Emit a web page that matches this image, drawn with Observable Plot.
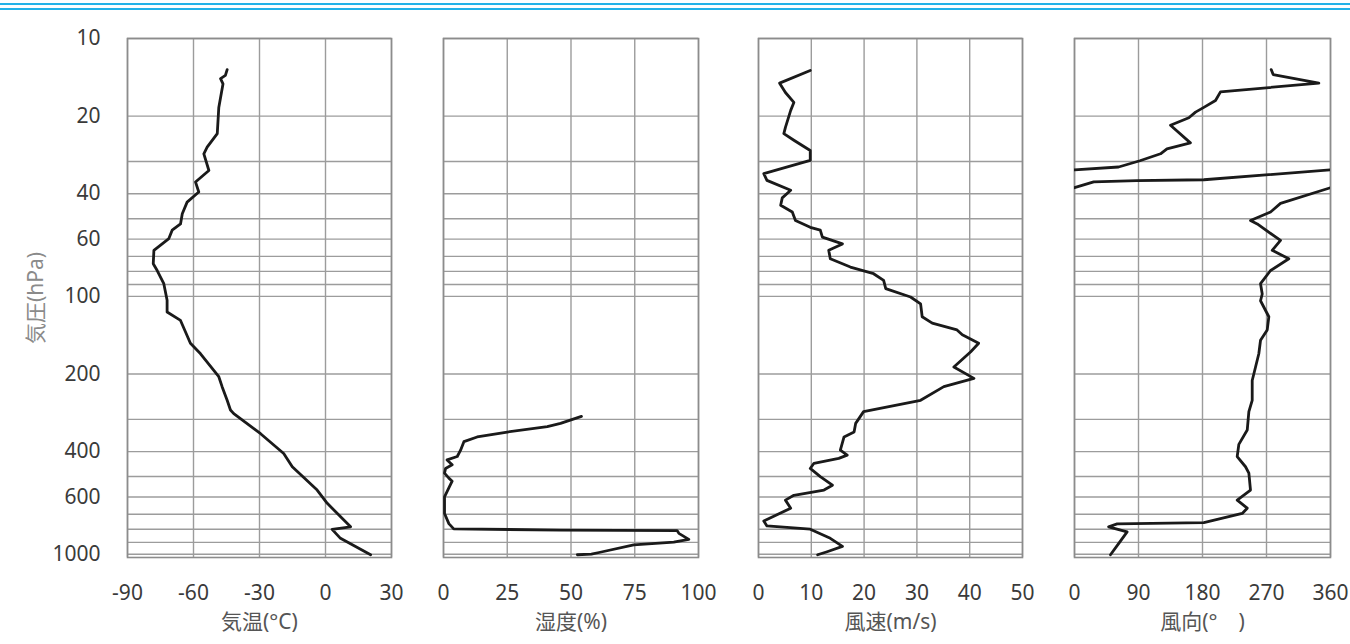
<!DOCTYPE html>
<html>
<head>
<meta charset="utf-8">
<script src="https://cdn.jsdelivr.net/npm/d3@7"></script>
<script src="https://cdn.jsdelivr.net/npm/@observablehq/plot@0.6"></script>
<style>
html, body { margin: 0; padding: 0; background: #fff; }
#chart { position: relative; width: 1350px; height: 644px; overflow: hidden; background: #fff; }
.rule { position: absolute; left: 0; width: 1350px; height: 2px; background: #23b2e8; }
#chart svg { position: absolute; top: 0; }
</style>
</head>
<body>
<div id="chart">
  <div class="rule" style="top:3px"></div>
  <div class="rule" style="top:8px"></div>
</div>
<script>
// ---- axis ticks ----
const pressureTicks = [10, 20, 40, 60, 80, 100, 200, 400, 600, 800, 1000];
const pressureGrid = [10, 20, 30, 40, 50, 60, 70, 80, 90, 100, 200, 300, 400, 500, 600, 700, 800, 900, 1000];
const tempTicks = [-90, -60, -30, 0, 30];
const humTicks = [0, 25, 50, 75, 100];
const speedTicks = [0, 10, 20, 30, 40, 50];
const dirTicks = [0, 90, 180, 270, 360];

// ---- temperature profile (°C vs hPa) ----
const tempP = [13.2, 13.9, 14.3, 15.0, 18.5, 23.4, 26.4, 28.0, 32.5, 36.0, 39.4, 43.1, 47.8, 52.4, 55.4, 59.7, 66.3, 74.8, 79.4, 89.3, 103.6, 115, 124, 152, 167, 205, 224, 253, 276, 285, 341, 407, 458, 564, 635, 783, 801, 868, 1005];
const tempV = [-44.7, -45.5, -47.7, -46.6, -48.5, -49.2, -53.8, -55.3, -53.0, -59.1, -57.6, -62.9, -65.1, -65.9, -69.7, -71.2, -78.0, -78.3, -76.5, -73.5, -72.0, -72.0, -65.9, -61.4, -56.8, -48.5, -47.0, -44.7, -43.2, -41.7, -29.5, -19.0, -15.1, -3.8, 0.8, 11.4, 3.0, 6.8, 20.5];

// ---- humidity profile (% vs hPa) ----
const humP = [292, 311, 320, 336, 351, 366, 395, 418, 431, 450, 465, 485, 507, 521, 553, 599, 695, 761, 798, 806, 810, 830, 876, 898, 920, 985, 1000, 1005];
const humV = [54.1, 45.9, 40.7, 25.0, 13.2, 8.0, 6.7, 5.4, 1.4, 3.4, 0.8, 0.4, 2.1, 3.4, 2.1, 0.4, 0.4, 2.1, 4.0, 45.9, 91.6, 92.3, 96.2, 90.3, 74.6, 61.0, 58.0, 52.5];

// ---- wind speed profile (m/s vs hPa) ----
const speedP = [13.3, 14.9, 16.2, 17.7, 19.0, 22.1, 23.4, 24.8, 27.2, 29.7, 33.4, 35.5, 38.8, 41.5, 44.3, 47.1, 50.8, 54.0, 55.4, 58.9, 62.6, 66.3, 71.5, 77.0, 81.7, 86.7, 93.4, 100.6, 107, 120, 127, 135, 141, 152, 164, 188, 208, 224, 253, 280, 311, 336, 351, 395, 413, 425, 444, 465, 500, 540, 564, 591, 617, 663, 744, 777, 800, 868, 933, 978, 1005];
const speedV = [9.8, 4.0, 5.1, 6.7, 6.1, 5.1, 4.8, 6.7, 9.8, 9.8, 1.0, 1.6, 6.1, 4.5, 4.2, 6.4, 7.0, 9.8, 11.7, 12.1, 15.9, 13.3, 13.6, 17.4, 21.8, 23.7, 24.1, 28.8, 30.7, 31.0, 32.9, 37.6, 38.6, 41.7, 40.2, 37.0, 40.8, 35.1, 30.7, 19.9, 18.4, 18.1, 16.2, 15.5, 16.8, 15.2, 10.5, 9.8, 11.7, 14.0, 12.4, 6.7, 5.1, 6.1, 1.0, 1.6, 9.8, 13.6, 15.9, 13.0, 11.2];

// ---- wind direction profile (° vs hPa); null breaks the line where it wraps ----
const dirP = [13.2, 13.8, 14.9, 16.1, 17.4, 18.5, 19.3, 20.3, 21.7, 25.4, 26.8, 28.0, 29.8, 31.5, 32.3, 32.3,
              32.3, 35.3, 35.6, 36.0, 37.9, 37.9,
              37.9, 43.6, 47.1, 50.8, 52.4, 60.7, 66.3, 71.5, 79.4, 89.3, 97.9, 104, 120, 135, 148, 167, 188, 212, 253, 280, 330, 375, 418, 458, 485, 564, 617, 663, 695, 754, 763, 783, 819, 910, 1005];
const dirV = [276.6, 279.4, 343.6, 205.3, 198.3, 181.9, 170.2, 160.8, 135.0, 163.0, 130.0, 121.0, 92.0, 62.0, 0, null,
              360, 182, 88, 27, 0, null,
              360, 289.7, 275.7, 247.5, 257.0, 289.7, 278.0, 301.4, 275.7, 261.6, 264.0, 261.6, 273.3, 271.0, 261.6, 259.2, 254.6, 249.9, 249.9, 245.2, 242.9, 231.1, 228.8, 240.5, 245.2, 247.5, 228.8, 242.9, 235.9, 181.9, 60.0, 48.0, 74.0, 62.0, 50.6];

const FONT = '"Noto Sans", "Noto Sans CJK JP", sans-serif';
const chart = document.getElementById("chart");

function panel({left, right, domain, ticks, label, xs, ps, showY}) {
  const mL = showY ? left : 30;
  const mR = 40;
  const w = right - left;
  const idx = xs.map((_, i) => i);
  const svg = Plot.plot({
    width: w + mL + mR,
    height: 644,
    marginLeft: mL,
    marginRight: mR,
    marginTop: 38,
    marginBottom: 87,
    style: {fontFamily: FONT, fontSize: "21px", background: "transparent", overflow: "visible"},
    x: {domain, axis: null},
    y: {type: "log", domain: [10, 1030], reverse: true, axis: null},
    marks: [
      Plot.gridX(ticks, {stroke: "#9c9c9c", strokeOpacity: 1, strokeWidth: 1.4}),
      Plot.gridY(pressureGrid, {stroke: "#9c9c9c", strokeOpacity: 1, strokeWidth: 1.4}),
      Plot.frame({stroke: "#8c8c8c", strokeWidth: 1.6}),
      Plot.axisX(ticks, {tickSize: 0, tickPadding: 28, fill: "#3a3a3a", label: null, tickFormat: d => String(d), fontSize: 21}),
      showY ? Plot.axisY(pressureTicks, {tickSize: 0, tickPadding: 27, fill: "#3a3a3a", label: null, tickFormat: d => String(d), fontSize: 21}) : null,
      Plot.line(idx, {x: xs, y: ps, stroke: "#1a1a1a", strokeWidth: 2.8, clip: true, strokeLinejoin: "round"}),
      Plot.text([label], {frameAnchor: "bottom", dy: 65, text: d => d, fill: "#555", fontSize: 21, lineAnchor: "middle"}),
      showY ? Plot.text(["気圧(hPa)"], {frameAnchor: "left", dx: -91, rotate: -90, textAnchor: "middle", text: d => d, fill: "#8a8a8a", fontSize: 21}) : null
    ]
  });
  svg.style.left = (left - mL) + "px";
  chart.appendChild(svg);
}

panel({left: 127, right: 391, domain: [-90, 30], ticks: tempTicks, label: "気温(°C)", xs: tempV, ps: tempP, showY: true});
panel({left: 443, right: 698, domain: [0, 100], ticks: humTicks, label: "湿度(%)", xs: humV, ps: humP, showY: false});
panel({left: 758, right: 1022, domain: [0, 50], ticks: speedTicks, label: "風速(m/s)", xs: speedV, ps: speedP, showY: false});
panel({left: 1074, right: 1330, domain: [0, 360], ticks: dirTicks, label: "風向(°\u3000)", xs: dirV, ps: dirP, showY: false});
</script>
</body>
</html>
